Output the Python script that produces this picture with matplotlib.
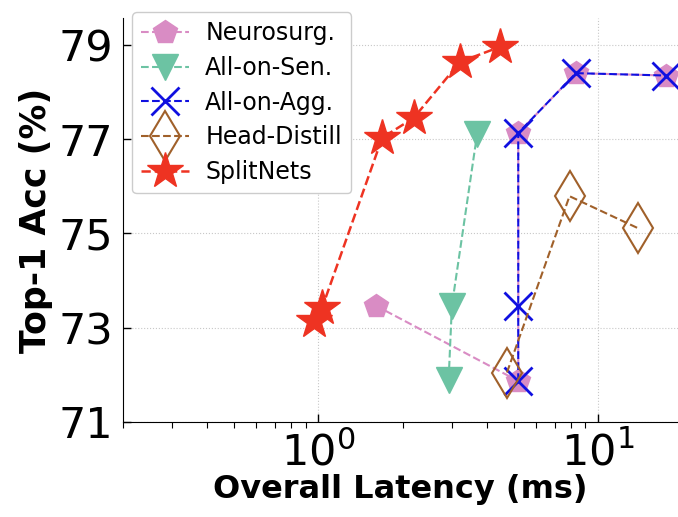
import numpy as np
import matplotlib.pyplot as plt

# latency (ms) / top-1 accuracy (%)
neuro_x = [1.60, 5.18, 5.18, 8.33, 17.5]
neuro_y = [73.47, 71.87, 77.13, 78.40, 78.35]

sen_x = [2.92, 3.00, 3.69]
sen_y = [71.90, 73.47, 77.10]

agg_x = [5.18, 5.18, 5.18, 8.33, 17.5]
agg_y = [71.87, 73.47, 77.13, 78.40, 78.35]

hd_x = [4.72, 7.90, 13.9]
hd_y = [72.05, 75.79, 75.11]

split_x = [0.96, 1.03, 1.69, 2.19, 3.21, 4.47]
split_y = [73.15, 73.42, 77.03, 77.45, 78.64, 78.96]

yticks = [71, 73, 75, 77, 79]

fig = plt.figure(figsize=(6.78, 5.17), dpi=100)
ax = fig.add_axes([123 / 678, 95 / 517, 1 - 123 / 678, 404 / 517])

ax.plot(neuro_x, neuro_y, "--", color="#d98cc4", marker="p", ms=18, lw=1.5,
        label="Neurosurg.")
ax.plot(sen_x, sen_y, "--", color="#6cc3a3", marker="v", ms=19, lw=1.5,
        label="All-on-Sen.")
ax.plot(agg_x, agg_y, "--", color="#1010e0", marker="x", ms=20, mew=2, lw=1.5,
        label="All-on-Agg.")
ax.plot(hd_x, hd_y, "--", color="#a0602a", marker="d", ms=25, mfc="none",
        mew=1.5, lw=1.5, label="Head-Distill")
ax.plot(split_x, split_y, "--", color="#ee3322", marker="*", ms=27, lw=1.8,
        label="SplitNets")

ax.set_xscale("log")
ax.set_xlim(0.2, 19.3)
ax.set_ylim(71, 79.57)
ax.set_yticks(yticks)
ax.set_yticklabels([str(t) for t in yticks])
ax.grid(True, which="major", color="#c8c8c8", lw=0.8, ls=":")
ax.set_axisbelow(True)

ax.tick_params(axis="both", which="major", labelsize=31, direction="in",
               length=6, width=1, pad=7)
ax.tick_params(axis="x", which="minor", direction="out", length=4, width=0.8)
ax.spines["top"].set_visible(False)
ax.spines["right"].set_visible(False)

ax.set_xlabel("Overall Latency (ms)", fontsize=23, fontweight="bold", labelpad=0)
ax.set_ylabel("Top-1 Acc (%)", fontsize=25, fontweight="bold", labelpad=4)

ax.legend(loc="upper left", bbox_to_anchor=(132 / 678, 1 - 12 / 517),
          bbox_transform=fig.transFigure, borderaxespad=0, fontsize=17,
          handlelength=2.0, handletextpad=0.7, labelspacing=0.45,
          framealpha=1, edgecolor="#cccccc", fancybox=True)

fig.savefig("out.png", dpi=100)
